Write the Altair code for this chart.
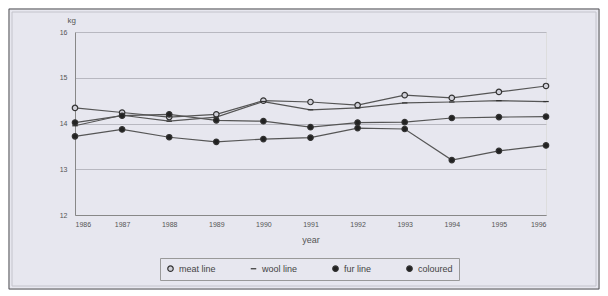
import altair as alt
import pandas as pd

years = [1986, 1987, 1988, 1989, 1990, 1991, 1992, 1993, 1994, 1995, 1996]
series_names = ["meat line", "wool line", "fur line", "coloured"]
meat = [14.34, 14.24, 14.14, 14.20, 14.50, 14.47, 14.40, 14.62, 14.56, 14.69, 14.82]
wool = [13.95, 14.18, 14.05, 14.14, 14.48, 14.30, 14.34, 14.45, 14.47, 14.50, 14.48]
fur = [14.02, 14.17, 14.20, 14.07, 14.05, 13.92, 14.02, 14.03, 14.12, 14.14, 14.15]
coloured = [13.72, 13.87, 13.70, 13.60, 13.66, 13.69, 13.90, 13.88, 13.20, 13.40, 13.52]
y_ticks = [12, 13, 14, 15, 16]

rows = []
for name, vals in zip(series_names, [meat, wool, fur, coloured]):
    for yr, v in zip(years, vals):
        rows.append({"year": yr, "kg": v, "series": name})
df = pd.DataFrame(rows)

BG = "#e7e7ef"
FONT = "Liberation Sans"

x_enc = alt.X("year:Q", scale=alt.Scale(domain=[1986, 1996], nice=False),
              axis=alt.Axis(values=years, format="d", grid=False, title="year",
                            labelFontSize=7, labelColor="#555", tickSize=0,
                            labelPadding=5, titleFontSize=9, titleColor="#555",
                            titleFontWeight="normal", titlePadding=8,
                            domainColor="#888"))
y_enc = alt.Y("kg:Q", scale=alt.Scale(domain=[12, 16], nice=False),
              axis=alt.Axis(values=y_ticks, format="d", grid=True, gridColor="#b8b8c0",
                            title="kg", titleAngle=0, titleX=-8, titleY=-8,
                            titleAlign="left", titleFontSize=8, titleColor="#555",
                            titleFontWeight="normal",
                            labelFontSize=7, labelColor="#555", tickSize=0,
                            labelPadding=8, domainColor="#888"))

base = alt.Chart(df)

lines = base.mark_line(color="#555", strokeWidth=1.2).encode(
    x=x_enc, y=y_enc, detail="series:N"
)

legend_cfg = alt.Legend(title=None, orient="none", legendX=85, legendY=226,
                        direction="horizontal", strokeColor="#999", padding=6,
                        labelFontSize=9, labelColor="#444", columnPadding=32,
                        symbolSize=30, symbolStrokeWidth=1.2, labelOffset=4)

points = base.mark_point(strokeWidth=1.2, opacity=1, size=30).encode(
    x="year:Q", y="kg:Q",
    shape=alt.Shape("series:N",
                    scale=alt.Scale(domain=series_names,
                                    range=["circle", "stroke", "circle", "circle"]),
                    legend=legend_cfg),
    fill=alt.Fill("series:N",
                  scale=alt.Scale(domain=series_names,
                                  range=["#d0d0d8", "#333", "#222", "#222"]),
                  legend=legend_cfg),
    stroke=alt.Stroke("series:N",
                      scale=alt.Scale(domain=series_names,
                                      range=["#333", "#333", "#333", "#333"]),
                      legend=legend_cfg),
)

frame_df = pd.DataFrame({"a": [0]})
outer = alt.Chart(frame_df).mark_rect(fill=None, stroke="#555", strokeWidth=1).encode(
    x=alt.value(-66), x2=alt.value(524), y=alt.value(-23), y2=alt.value(257)
)
inner = alt.Chart(frame_df).mark_rect(fill=None, stroke="#c4c4cc", strokeWidth=1).encode(
    x=alt.value(-63), x2=alt.value(521), y=alt.value(-20), y2=alt.value(254)
)

chart = alt.layer(outer, inner, lines, points).properties(
    width=471, height=183,
    autosize=alt.AutoSizeParams(type="none"),
    padding={"left": 67, "top": 24, "right": 54, "bottom": 75},
    background=BG,
).configure_view(stroke="#888", strokeWidth=1).configure(font=FONT)

chart.save("out.html", embed_options={"renderer": "svg", "actions": False})
